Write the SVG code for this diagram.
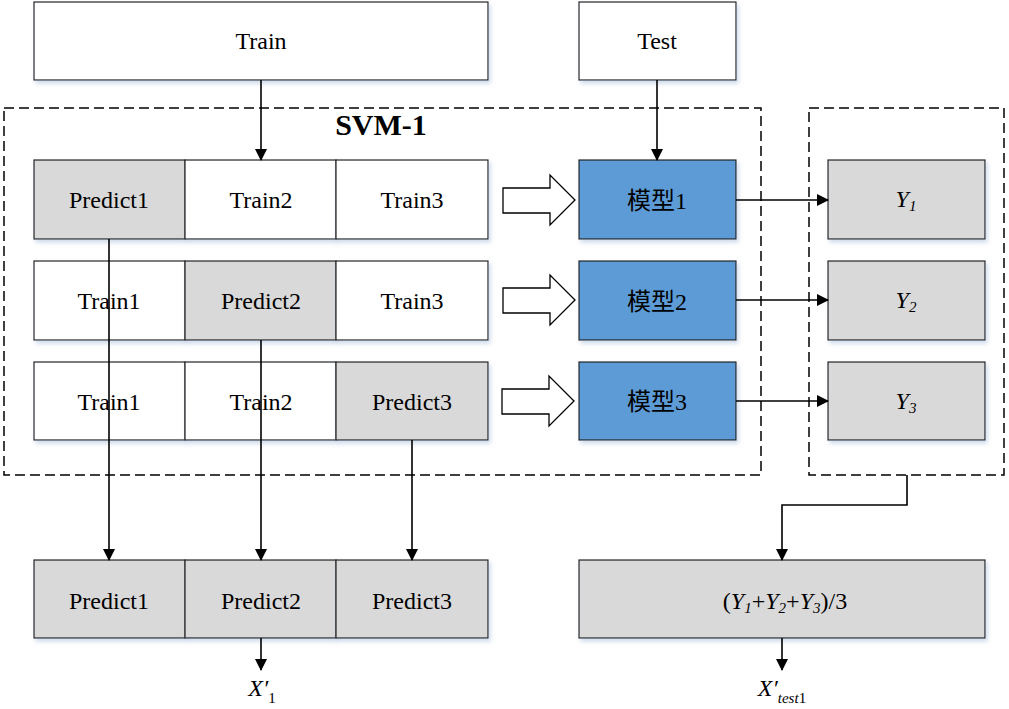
<svg xmlns="http://www.w3.org/2000/svg" width="1009" height="709" viewBox="0 0 1009 709">
<defs>
<marker id="ah" markerWidth="12" markerHeight="12" refX="11" refY="6" orient="auto" markerUnits="userSpaceOnUse">
<path d="M0,0 L12,6 L0,12 Z" fill="#000"/>
</marker>
<filter id="sh" x="-5%" y="-5%" width="115%" height="125%">
<feDropShadow dx="2" dy="3" stdDeviation="2" flood-color="#9fb7d8" flood-opacity="0.5"/>
</filter>
</defs>
<style>
.b{stroke:#222;stroke-width:1.2;filter:url(#sh)}
.w{fill:#fff}
.g{fill:#d9d9d9}
.m{fill:#5b9bd5}
text{font-family:'Liberation Serif','Times New Roman','DejaVu Serif','Noto Sans CJK SC',serif}
.t{font-size:24px;fill:#000;text-anchor:middle}
.s{font-size:15px}
.i{font-style:italic}
.n{font-style:normal}
.dash{fill:none;stroke:#000;stroke-width:1.5;stroke-dasharray:10,5}
.c{fill:none;stroke:#000;stroke-width:1.6}
.hol{fill:#fff;stroke:#000;stroke-width:1.3}
</style>
<rect width="1009" height="709" fill="#fff"/>

<g id="svm-group">
<rect class="dash" x="4" y="108" width="757" height="367"/>
<text class="t" x="381" y="135" style="font-weight:bold;font-size:30px">SVM-1</text>
</g>
<g id="y-group"><rect class="dash" x="809" y="108" width="195" height="367"/></g>

<g id="train"><rect class="b w" x="34" y="2" width="454" height="78"/><text class="t" x="261" y="49">Train</text></g>
<g id="test"><rect class="b w" x="579" y="2" width="157" height="78"/><text class="t" x="657" y="49">Test</text></g>

<g id="r1c1"><rect class="b g" x="34" y="160" width="151" height="79"/><text class="t" x="109" y="208">Predict1</text></g>
<g id="r1c2"><rect class="b w" x="185" y="160" width="151" height="79"/><text class="t" x="261" y="208">Train2</text></g>
<g id="r1c3"><rect class="b w" x="336" y="160" width="152" height="79"/><text class="t" x="412" y="208">Train3</text></g>

<g id="r2c1"><rect class="b w" x="34" y="261" width="151" height="79"/><text class="t" x="109" y="309">Train1</text></g>
<g id="r2c2"><rect class="b g" x="185" y="261" width="151" height="79"/><text class="t" x="261" y="309">Predict2</text></g>
<g id="r2c3"><rect class="b w" x="336" y="261" width="152" height="79"/><text class="t" x="412" y="309">Train3</text></g>

<g id="r3c1"><rect class="b w" x="34" y="362" width="151" height="78"/><text class="t" x="109" y="410">Train1</text></g>
<g id="r3c2"><rect class="b w" x="185" y="362" width="151" height="78"/><text class="t" x="261" y="410">Train2</text></g>
<g id="r3c3"><rect class="b g" x="336" y="362" width="152" height="78"/><text class="t" x="412" y="410">Predict3</text></g>

<g id="model1"><rect class="b m" x="579" y="160" width="157" height="79"/><text class="t" x="657" y="209">模型1</text></g>
<g id="model2"><rect class="b m" x="579" y="261" width="157" height="79"/><text class="t" x="657" y="310">模型2</text></g>
<g id="model3"><rect class="b m" x="579" y="362" width="157" height="78"/><text class="t" x="657" y="410">模型3</text></g>

<g id="y1"><rect class="b g" x="828" y="160" width="157" height="79"/><text class="t i" x="906" y="207">Y<tspan class="s" dy="4">1</tspan></text></g>
<g id="y2"><rect class="b g" x="828" y="261" width="157" height="79"/><text class="t i" x="906" y="308">Y<tspan class="s" dy="4">2</tspan></text></g>
<g id="y3"><rect class="b g" x="828" y="362" width="157" height="78"/><text class="t i" x="906" y="409">Y<tspan class="s" dy="4">3</tspan></text></g>

<g id="b1"><rect class="b g" x="34" y="560" width="151" height="78"/><text class="t" x="109" y="609">Predict1</text></g>
<g id="b2"><rect class="b g" x="185" y="560" width="151" height="78"/><text class="t" x="261" y="609">Predict2</text></g>
<g id="b3"><rect class="b g" x="336" y="560" width="152" height="78"/><text class="t" x="412" y="609">Predict3</text></g>

<g id="avg"><rect class="b g" x="579" y="560" width="406" height="78"/>
<text class="t" x="785" y="609">(<tspan class="i">Y</tspan><tspan class="i s" dy="4">1</tspan><tspan dy="-4">+</tspan><tspan class="i">Y</tspan><tspan class="i s" dy="4">2</tspan><tspan dy="-4">+</tspan><tspan class="i">Y</tspan><tspan class="i s" dy="4">3</tspan><tspan dy="-4">)/3</tspan></text></g>

<g id="x1label"><text class="t i" x="262" y="696">X′<tspan class="s n" dy="7">1</tspan></text></g>
<g id="xtestlabel"><text class="t i" x="782" y="696">X′<tspan class="s" dy="7">test</tspan><tspan class="s n">1</tspan></text></g>

<g id="connectors">
<path class="c" d="M261,80 V160" marker-end="url(#ah)"/>
<path class="c" d="M657,80 V160" marker-end="url(#ah)"/>
<path class="c" d="M109,239 V560" marker-end="url(#ah)"/>
<path class="c" d="M261,340 V560" marker-end="url(#ah)"/>
<path class="c" d="M412,440 V560" marker-end="url(#ah)"/>
<path class="c" d="M736,200 H828" marker-end="url(#ah)"/>
<path class="c" d="M736,300 H828" marker-end="url(#ah)"/>
<path class="c" d="M736,401 H828" marker-end="url(#ah)"/>
<path class="c" d="M907,475 V505 H782 V560" marker-end="url(#ah)"/>
<path class="c" d="M261,638 V670" marker-end="url(#ah)"/>
<path class="c" d="M782,638 V670" marker-end="url(#ah)"/>
<path class="hol" d="M503,188 H550 V175 L575,200 L550,225 V213 H503 Z"/>
<path class="hol" d="M503,288 H550 V275 L575,300 L550,325 V313 H503 Z"/>
<path class="hol" d="M502,389 H549 V376 L574,401 L549,426 V414 H502 Z"/>
</g>
</svg>
